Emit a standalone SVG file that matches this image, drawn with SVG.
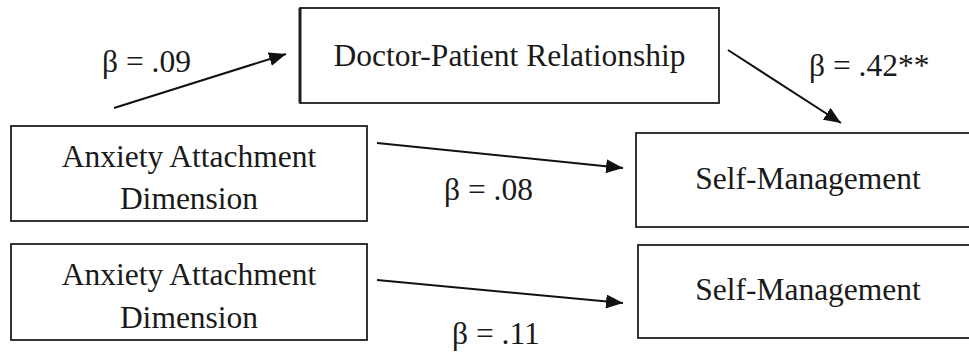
<svg xmlns="http://www.w3.org/2000/svg" width="969" height="352" viewBox="0 0 969 352">
  <style>
    .box { fill: #ffffff; stroke: #1e1e1e; stroke-width: 1.8; }
    .lbl { font-family: "Liberation Serif", "Times New Roman", serif; font-size: 31.5px; fill: #1a1a1a; }
    .mid { text-anchor: middle; }
    .edge { stroke: #111111; stroke-width: 2; fill: none; marker-end: url(#head); }
  </style>
  <defs>
    <marker id="head" markerUnits="userSpaceOnUse" markerWidth="18" markerHeight="14" refX="17" refY="7" orient="auto">
      <path d="M0,0 L17,7 L0,14 z" fill="#111111"/>
    </marker>
  </defs>
  <rect width="969" height="352" fill="#ffffff"/>

  <g id="doctor-patient">
    <rect class="box" x="300" y="8" width="419" height="95"/>
    <line x1="300" y1="8" x2="300" y2="103" stroke="#1e1e1e" stroke-width="3"/>
    <text class="lbl mid" x="509.5" y="66">Doctor-Patient Relationship</text>
  </g>

  <g id="anxiety-1">
    <rect class="box" x="11" y="126" width="356" height="95"/>
    <text class="lbl mid" x="189" y="167">Anxiety Attachment</text>
    <text class="lbl mid" x="189" y="209">Dimension</text>
  </g>

  <g id="self-management-1">
    <rect class="box" x="636" y="133" width="350" height="94"/>
    <text class="lbl mid" x="808" y="189">Self-Management</text>
  </g>

  <g id="anxiety-2">
    <rect class="box" x="11" y="244" width="356" height="96"/>
    <text class="lbl mid" x="189" y="285">Anxiety Attachment</text>
    <text class="lbl mid" x="189" y="328">Dimension</text>
  </g>

  <g id="self-management-2">
    <rect class="box" x="638" y="245" width="350" height="93"/>
    <text class="lbl mid" x="808" y="300">Self-Management</text>
  </g>

  <g id="connectors">
    <line class="edge" x1="114" y1="108" x2="286" y2="54"/>
    <line class="edge" x1="728" y1="50" x2="841" y2="123"/>
    <line class="edge" x1="377" y1="143" x2="623" y2="168"/>
    <line class="edge" x1="377" y1="280" x2="623" y2="303"/>
  </g>

  <g id="labels">
    <text class="lbl" x="102" y="72">β = .09</text>
    <text class="lbl" x="809" y="76">β = .42**</text>
    <text class="lbl" x="444" y="200">β = .08</text>
    <text class="lbl" x="452" y="344">β = .11</text>
  </g>
</svg>
